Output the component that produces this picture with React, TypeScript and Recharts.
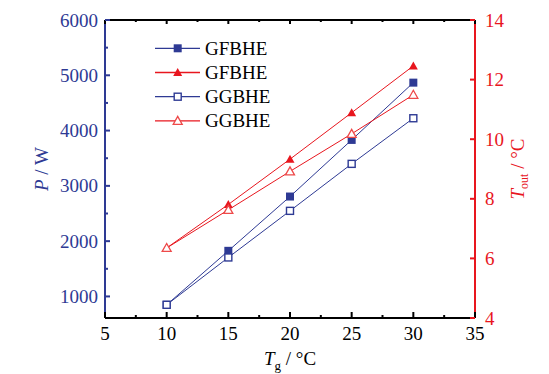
import { LineChart, Line, XAxis, YAxis } from "recharts";

const tg = [10, 15, 20, 25, 30];
const powerGF = [849, 1825, 2807, 3831, 4867];
const powerGG = [849, 1705, 2548, 3398, 4223];
const toutGF = [6.35, 7.81, 9.33, 10.89, 12.46];
const toutGG = [6.35, 7.63, 8.92, 10.18, 11.49];

const xTicks = [5, 7.5, 10, 12.5, 15, 17.5, 20, 22.5, 25, 27.5, 30, 32.5, 35];
const pTicks = [1000, 1500, 2000, 2500, 3000, 3500, 4000, 4500, 5000, 5500, 6000];
const tTicks = [4, 6, 8, 10, 12, 14];

const BLUE = "#2E3A94";
const RED = "#E8161E";
const FONT = "Liberation Serif, Times New Roman, serif";
const txt = { fontFamily: FONT, fontSize: 19 };

const data = tg.map((t, i) => ({
  tg: t,
  pGF: powerGF[i],
  pGG: powerGG[i],
  tGF: toutGF[i],
  tGG: toutGG[i],
}));

type Marker = "sq" | "osq" | "tri" | "otri";

function MarkerShape({ kind, cx, cy, color }: { kind: Marker; cx: number; cy: number; color: string }) {
  if (kind === "sq") return <rect x={cx - 4} y={cy - 4} width={8} height={8} fill={color} />;
  if (kind === "osq")
    return <rect x={cx - 3.5} y={cy - 3.5} width={7} height={7} fill="#fff" stroke={color} strokeWidth={1.4} />;
  const pts = `${cx - 4.5},${cy + 3.5} ${cx + 4.5},${cy + 3.5} ${cx},${cy - 4.5}`;
  if (kind === "tri") return <polygon points={pts} fill={color} />;
  return <polygon points={pts} fill="#fff" stroke="#EE4A4A" strokeWidth={1.3} />;
}

const dotFor = (kind: Marker, color: string) => (p: any) =>
  <MarkerShape key={`${kind}-${p.index}`} kind={kind} cx={p.cx} cy={p.cy} color={color} />;

const isMajorX = (v: number) => v % 5 === 0;
const isMajorP = (v: number) => v % 1000 === 0;

function BottomTick(p: any) {
  const v = p.payload.value;
  const major = isMajorX(v);
  return (
    <g>
      <line x1={p.x} x2={p.x} y1={p.y} y2={p.y - (major ? 6 : 3)} stroke="#000" strokeWidth={2} />
      {major && (
        <text x={p.x} y={p.y + 22} textAnchor="middle" fill="#000" style={txt}>
          {v}
        </text>
      )}
    </g>
  );
}

function TopTick(p: any) {
  const major = isMajorX(p.payload.value);
  return <line x1={p.x} x2={p.x} y1={p.y} y2={p.y + (major ? 4 : 2)} stroke="#000" strokeWidth={2} />;
}

function LeftTick(p: any) {
  const v = p.payload.value;
  const major = isMajorP(v);
  return (
    <g>
      <line x1={p.x} x2={p.x + (major ? 5 : 3)} y1={p.y} y2={p.y} stroke={BLUE} strokeWidth={2} />
      {major && (
        <text x={p.x - 7} y={p.y + 6.5} textAnchor="end" fill={BLUE} style={txt}>
          {v}
        </text>
      )}
    </g>
  );
}

function RightTick(p: any) {
  const v = p.payload.value;
  return (
    <g>
      <line x1={p.x} x2={p.x - 5} y1={p.y} y2={p.y} stroke={RED} strokeWidth={2} />
      <text x={p.x + 10} y={p.y + 6.5} textAnchor="start" fill={RED} style={txt}>
        {v}
      </text>
    </g>
  );
}

const legendItems: { name: string; kind: Marker; color: string }[] = [
  { name: "GFBHE", kind: "sq", color: BLUE },
  { name: "GFBHE", kind: "tri", color: RED },
  { name: "GGBHE", kind: "osq", color: BLUE },
  { name: "GGBHE", kind: "otri", color: RED },
];

export default function App() {
  return (
    <div style={{ position: "absolute", left: 0, top: 0, width: 549, height: 374, background: "#fff" }}>
      <LineChart width={549} height={374} data={data} margin={{ top: 0, right: 0, bottom: 0, left: 0 }}>
        <XAxis
          dataKey="tg"
          type="number"
          domain={[5, 35]}
          ticks={xTicks}
          interval={0}
          height={56}
          tickSize={0}
          tickMargin={0}
          tick={BottomTick}
          axisLine={{ stroke: "#000", strokeWidth: 2 }}
          allowDataOverflow
        />
        <XAxis
          xAxisId="top"
          dataKey="tg"
          type="number"
          orientation="top"
          domain={[5, 35]}
          ticks={xTicks}
          interval={0}
          height={20}
          tickSize={0}
          tickMargin={0}
          tick={TopTick}
          axisLine={{ stroke: "#000", strokeWidth: 2 }}
          allowDataOverflow
        />
        <YAxis
          yAxisId="P"
          type="number"
          domain={[610, 6000]}
          ticks={pTicks}
          interval={0}
          width={105}
          tickSize={0}
          tickMargin={0}
          tick={LeftTick}
          axisLine={{ stroke: BLUE, strokeWidth: 2 }}
          allowDataOverflow
        />
        <YAxis
          yAxisId="T"
          orientation="right"
          type="number"
          domain={[4, 14]}
          ticks={tTicks}
          interval={0}
          width={74}
          tickSize={0}
          tickMargin={0}
          tick={RightTick}
          axisLine={{ stroke: RED, strokeWidth: 2 }}
          allowDataOverflow
        />
        <Line yAxisId="P" dataKey="pGF" stroke={BLUE} strokeWidth={1} dot={dotFor("sq", BLUE)} isAnimationActive={false} />
        <Line yAxisId="P" dataKey="pGG" stroke={BLUE} strokeWidth={1} dot={dotFor("osq", BLUE)} isAnimationActive={false} />
        <Line yAxisId="T" dataKey="tGF" stroke={RED} strokeWidth={1} dot={dotFor("tri", RED)} isAnimationActive={false} />
        <Line yAxisId="T" dataKey="tGG" stroke={RED} strokeWidth={1} dot={dotFor("otri", RED)} isAnimationActive={false} />
      </LineChart>
      <svg width={549} height={374} style={{ position: "absolute", left: 0, top: 0, pointerEvents: "none" }}>
        {legendItems.map((it, i) => {
          const y = 48.3 + i * 24.2;
          return (
            <g key={i}>
              <line x1={155} x2={200} y1={y} y2={y} stroke={it.color} strokeWidth={1.3} />
              <MarkerShape kind={it.kind} cx={177.7} cy={y} color={it.color} />
              <text x={205} y={y + 6.5} fill="#000" style={txt}>
                {it.name}
              </text>
            </g>
          );
        })}
        <text transform="translate(47.5,169) rotate(-90)" textAnchor="middle" fill={BLUE} style={txt}>
          <tspan fontStyle="italic">P</tspan> / W
        </text>
        <text transform="translate(523.5,169) rotate(-90)" textAnchor="middle" fill={RED} style={txt}>
          <tspan fontStyle="italic">T</tspan>
          <tspan fontSize={12} dy={4}>out</tspan>
          <tspan dy={-4}> / °C</tspan>
        </text>
        <text x={290} y={365} textAnchor="middle" fill="#000" style={txt}>
          <tspan fontStyle="italic">T</tspan>
          <tspan fontSize={13} dy={5}>g</tspan>
          <tspan dy={-5}> / °C</tspan>
        </text>
      </svg>
    </div>
  );
}
